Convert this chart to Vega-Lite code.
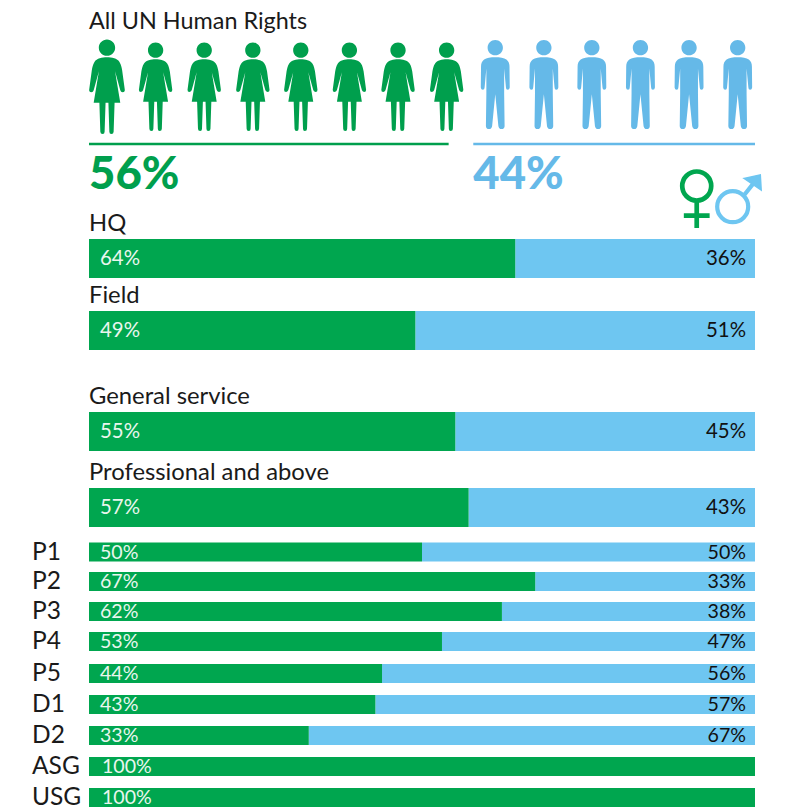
{"$schema":"https://vega.github.io/schema/vega-lite/v6.json","width":785,"height":807,"autosize":"none","padding":0,"background":"white","config":{"view":{"stroke":null},"font":"Lato","text":{"font":"Lato"}},
"datasets":{
"bars":[
{"name":"HQ","row":7,"women":64,"men":36,"band":"large","whole":100},
{"name":"Field","row":8,"women":49,"men":51,"band":"large","whole":100},
{"name":"General service","row":9,"women":55,"men":45,"band":"large","whole":100},
{"name":"Professional and above","row":10,"women":57,"men":43,"band":"large","whole":100},
{"name":"P1","row":11,"women":50,"men":50,"band":"small","whole":100},
{"name":"P2","row":12,"women":67,"men":33,"band":"small","whole":100},
{"name":"P3","row":13,"women":62,"men":38,"band":"small","whole":100},
{"name":"P4","row":14,"women":53,"men":47,"band":"small","whole":100},
{"name":"P5","row":15,"women":44,"men":56,"band":"small","whole":100},
{"name":"D1","row":16,"women":43,"men":57,"band":"small","whole":100},
{"name":"D2","row":17,"women":33,"men":67,"band":"small","whole":100},
{"name":"ASG","row":18,"women":100,"men":0,"band":"small","whole":100},
{"name":"USG","row":19,"women":100,"men":0,"band":"small","whole":100}],
"figures":[
{"person":1,"at":2.7,"gender":"women","row":3},{"person":2,"at":10,"gender":"women","row":3},{"person":3,"at":17.3,"gender":"women","row":3},{"person":4,"at":24.6,"gender":"women","row":3},{"person":5,"at":31.8,"gender":"women","row":3},{"person":6,"at":39.1,"gender":"women","row":3},{"person":7,"at":46.4,"gender":"women","row":3},{"person":8,"at":53.7,"gender":"women","row":3},
{"person":9,"at":61,"gender":"men","row":2},{"person":10,"at":68.3,"gender":"men","row":2},{"person":11,"at":75.5,"gender":"men","row":2},{"person":12,"at":82.8,"gender":"men","row":2},{"person":13,"at":90.1,"gender":"men","row":2},{"person":14,"at":97.4,"gender":"men","row":2}],
"headline":[
{"gender":"women","share":56,"start":0,"end":54,"ruleRow":4,"textRow":5,"label":"56%"},
{"gender":"men","share":44,"start":57.7,"end":100,"ruleRow":4,"textRow":5,"label":"44%"}]
},
"encoding":{"y":{"field":"row","type":"quantitative","axis":null,"scale":{"nice":false,"zero":false,"padding":0,"domain":[1,2,3,4,5,6,7,8,9,10,11,12,13,14,15,16,17,18,19],"range":[22,84.5,87,144,174.5,200,258.5,330.5,431.5,507.5,552,581.5,611.5,641.5,673.5,704.5,735.5,766.5,797.5]}}},
"layer":[
{"data":{"values":[{"title":"All UN Human Rights","row":1,"pos":0}]},"mark":{"type":"text","align":"left","baseline":"middle","fontSize":23.4,"color":"#1a1a1a"},
"encoding":{"x":{"field":"pos","type":"quantitative","axis":null,"scale":{"nice":false,"zero":false,"domain":[0,100],"range":[89,755]}},"text":{"field":"title"}}},
{"data":{"name":"figures"},"transform":[{"filter":"datum.gender==='women'"}],"mark":{"type":"point","filled":true,"opacity":1,"strokeWidth":0,"shape":"M0,-0.625 C0.1,-0.625 0.22,-0.6 0.26,-0.53 C0.3,-0.47 0.31,-0.4 0.32,-0.35 L0.375,0.06 Q0.38,0.11 0.33,0.11 Q0.29,0.11 0.28,0.07 L0.17,-0.33 L0.28,0.33 L0.16,0.33 L0.14,0.94 Q0.14,0.99 0.09,0.99 Q0.05,0.99 0.05,0.94 L0.03,0.33 L-0.03,0.33 L-0.05,0.94 Q-0.05,0.99 -0.09,0.99 Q-0.14,0.99 -0.14,0.94 L-0.16,0.33 L-0.28,0.33 L-0.17,-0.33 L-0.28,0.07 Q-0.29,0.11 -0.33,0.11 Q-0.38,0.11 -0.375,0.06 L-0.32,-0.35 C-0.31,-0.4 -0.3,-0.47 -0.26,-0.53 C-0.22,-0.6 -0.1,-0.625 0,-0.625 Z M0,-1 C0.095,-1 0.172,-0.923 0.172,-0.828 C0.172,-0.733 0.095,-0.656 0,-0.656 C-0.095,-0.656 -0.172,-0.733 -0.172,-0.828 C-0.172,-0.923 -0.095,-1 0,-1 Z"},
"encoding":{"x":{"field":"at","type":"quantitative"},"color":{"field":"gender","type":"nominal","legend":null,"scale":{"domain":["women","men"],"range":["#009f4d","#65b9e8"]}},"size":{"condition":{"test":"datum.person===1","value":9025},"value":7921}}},
{"data":{"name":"figures"},"transform":[{"filter":"datum.gender==='men'"}],"mark":{"type":"point","filled":true,"opacity":1,"strokeWidth":0,"size":7921,"shape":"M0,-0.61 C0.1,-0.61 0.2,-0.6 0.25,-0.56 C0.3,-0.52 0.32,-0.47 0.32,-0.4 L0.325,0.07 Q0.32,0.12 0.28,0.12 Q0.24,0.12 0.24,0.07 L0.2,-0.36 L0.2,0.2 L0.21,0.93 Q0.21,1 0.14,1 Q0.08,1 0.07,0.93 L0,0.22 L-0.07,0.93 Q-0.08,1 -0.14,1 Q-0.21,1 -0.21,0.93 L-0.2,0.2 L-0.2,-0.36 L-0.24,0.07 Q-0.24,0.12 -0.28,0.12 Q-0.32,0.12 -0.325,0.07 L-0.32,-0.4 C-0.32,-0.47 -0.3,-0.52 -0.25,-0.56 C-0.2,-0.6 -0.1,-0.61 0,-0.61 Z M0,-1 C0.095,-1 0.172,-0.923 0.172,-0.828 C0.172,-0.733 0.095,-0.656 0,-0.656 C-0.095,-0.656 -0.172,-0.733 -0.172,-0.828 C-0.172,-0.923 -0.095,-1 0,-1 Z"},
"encoding":{"x":{"field":"at","type":"quantitative"},"color":{"field":"gender","type":"nominal","legend":null}}},
{"data":{"name":"headline"},"mark":{"type":"rule","strokeWidth":2.5},
"encoding":{"x":{"field":"start","type":"quantitative"},"x2":{"field":"end"},"y":{"field":"ruleRow","type":"quantitative"},"color":{"field":"gender","type":"nominal","legend":null}}},
{"data":{"name":"headline"},"mark":{"type":"text","align":"left","baseline":"middle","fontSize":45.5,"fontWeight":900,"dx":0},
"encoding":{"x":{"field":"start","type":"quantitative"},"y":{"field":"textRow","type":"quantitative"},"text":{"field":"label"},"color":{"field":"gender","type":"nominal","legend":null}}},
{"data":{"values":[{"row":6,"pos":91.25}]},"mark":{"type":"point","filled":false,"opacity":1,"stroke":"#00a64f","strokeWidth":4.7,"size":3600,"shape":"M0,-0.95 C0.267,-0.95 0.483,-0.734 0.483,-0.467 C0.483,-0.2 0.267,0.017 0,0.017 C-0.267,0.017 -0.483,-0.2 -0.483,-0.467 C-0.483,-0.734 -0.267,-0.95 0,-0.95 Z M0,0.017 L0,0.93 M-0.43,0.523 L0.43,0.523"},
"encoding":{"x":{"field":"pos","type":"quantitative"}}},
{"data":{"values":[{"row":6,"pos":96.65}]},"mark":{"type":"point","filled":false,"opacity":1,"stroke":"#6ec6f1","strokeWidth":4.2,"size":3600,"shape":"M0,-0.294 C0.285,-0.294 0.517,-0.062 0.517,0.223 C0.517,0.508 0.285,0.74 0,0.74 C-0.285,0.74 -0.517,0.508 -0.517,0.223 C-0.517,-0.062 -0.285,-0.294 0,-0.294 Z M0.365,-0.143 L0.87,-0.78"},
"encoding":{"x":{"field":"pos","type":"quantitative"}}},
{"data":{"values":[{"row":6,"pos":96.65}]},"mark":{"type":"point","filled":true,"opacity":1,"fill":"#6ec6f1","stroke":"#6ec6f1","strokeWidth":1.5,"size":3600,"shape":"M0.38,-0.72 L0.92,-0.84 L0.95,-0.33 Z"},
"encoding":{"x":{"field":"pos","type":"quantitative"}}},
{"data":{"name":"bars"},"transform":[{"filter":"datum.band==='large'"}],"mark":{"type":"bar","orient":"horizontal","size":39,"color":"#6ec6f1"},
"encoding":{"x":{"field":"women","type":"quantitative"},"x2":{"field":"whole"}}},
{"data":{"name":"bars"},"transform":[{"filter":"datum.band==='small'"}],"mark":{"type":"bar","orient":"horizontal","size":19,"color":"#6ec6f1"},
"encoding":{"x":{"field":"women","type":"quantitative"},"x2":{"field":"whole"}}},
{"data":{"name":"bars"},"transform":[{"filter":"datum.band==='large'"}],"mark":{"type":"bar","orient":"horizontal","size":39,"color":"#00a64f"},
"encoding":{"x":{"field":"women","type":"quantitative"}}},
{"data":{"name":"bars"},"transform":[{"filter":"datum.band==='small'"}],"mark":{"type":"bar","orient":"horizontal","size":19,"color":"#00a64f"},
"encoding":{"x":{"field":"women","type":"quantitative"}}},
{"data":{"name":"bars"},"transform":[{"filter":"datum.women<100"},{"calculate":"datum.women+'%'","as":"label"}],"mark":{"type":"text","align":"left","baseline":"middle","color":"#e9f6ee","dx":11,"dy":0.5},
"encoding":{"x":{"datum":0},"text":{"field":"label"},"size":{"condition":{"test":"datum.band==='large'","value":20.4},"value":19.6}}},
{"data":{"name":"bars"},"transform":[{"filter":"datum.women===100"},{"calculate":"datum.women+'%'","as":"label"}],"mark":{"type":"text","align":"left","baseline":"middle","fontSize":19.6,"color":"#e9f6ee","dx":13,"dy":0.5},
"encoding":{"x":{"datum":0},"text":{"field":"label"}}},
{"data":{"name":"bars"},"transform":[{"filter":"datum.men>0"},{"calculate":"datum.men+'%'","as":"label"}],"mark":{"type":"text","align":"right","baseline":"middle","color":"#111111","dx":-9,"dy":0.5},
"encoding":{"x":{"field":"whole","type":"quantitative"},"text":{"field":"label"},"size":{"condition":{"test":"datum.band==='large'","value":20.4},"value":19.6}}},
{"data":{"name":"bars"},"transform":[{"filter":"datum.band==='large'"}],"mark":{"type":"text","align":"left","baseline":"middle","fontSize":23.8,"color":"#1a1a1a","dy":-35},
"encoding":{"x":{"datum":0},"text":{"field":"name"}}},
{"data":{"name":"bars"},"transform":[{"filter":"datum.band==='small'"}],"mark":{"type":"text","align":"left","baseline":"middle","fontSize":24.5,"color":"#1a1a1a","dx":-57,"dy":0.5},
"encoding":{"x":{"datum":0},"text":{"field":"name"}}}
]}
